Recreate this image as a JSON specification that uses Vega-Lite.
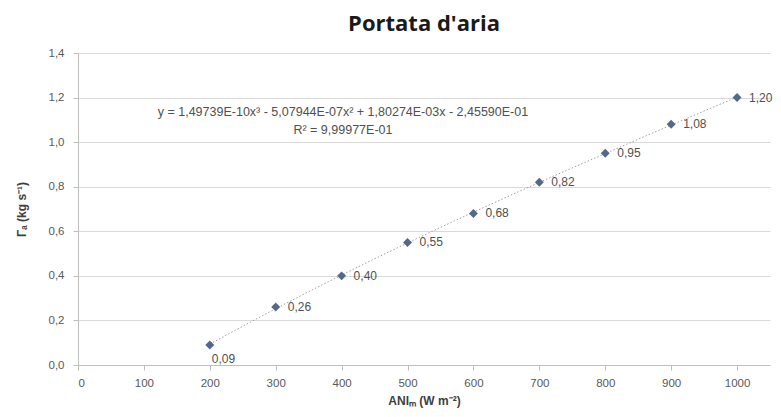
{
  "$schema": "https://vega.github.io/schema/vega-lite/v6.json",
  "width": 692,
  "height": 312,
  "autosize": {"type": "none"},
  "padding": {"left": 78, "top": 53, "right": 11, "bottom": 52},
  "background": "white",
  "config": {
    "locale": {"number": {"decimal": ",", "thousands": ".", "grouping": [3], "currency": ["", " €"]}},
    "view": {"stroke": null},
    "font": "Liberation Sans"
  },
  "title": {"text": "Portata d'aria", "fontSize": 22, "fontWeight": "bold", "font": "Open Sans", "anchor": "middle", "offset": 11, "color": "#1a1a1a"},
  "layer": [
    {
      "data": {"name": "pts"},
      "transform": [{"regression": "y", "on": "x", "method": "poly", "order": 3}],
      "mark": {"type": "line", "color": "#a0a0a0", "strokeDash": [1.5, 2], "strokeWidth": 1},
      "encoding": {
        "x": {"field": "x", "type": "quantitative",
          "scale": {"domain": [0, 1050], "nice": false, "zero": true},
          "axis": {"values": [0, 100, 200, 300, 400, 500, 600, 700, 800, 900, 1000], "format": "d", "grid": false,
            "domainColor": "#bfbfbf", "tickColor": "#bfbfbf", "tickSize": 5, "labelFontSize": 11.5, "labelColor": "#595959", "labelPadding": 7,
            "title": "ANIₘ (W m⁻²)", "titleFontSize": 12, "titleFontWeight": "bold", "titleColor": "#404040", "titlePadding": 7}},
        "y": {"field": "y", "type": "quantitative",
          "scale": {"domain": [0, 1.4], "nice": false},
          "axis": {"values": [0, 0.2, 0.4, 0.6, 0.8, 1.0, 1.2, 1.4], "format": ".1f", "grid": true, "gridColor": "#d9d9d9",
            "domainColor": "#bfbfbf", "tickColor": "#bfbfbf", "tickSize": 5, "labelFontSize": 11.5, "labelColor": "#595959", "labelPadding": 9,
            "title": "Γₐ (kg s⁻¹)", "titleFontSize": 12, "titleFontWeight": "bold", "titleColor": "#404040", "titlePadding": 20}}
      }
    },
    {
      "data": {"name": "pts"},
      "mark": {"type": "point", "shape": "diamond", "filled": true, "size": 80, "color": "#52698c", "opacity": 1},
      "encoding": {"x": {"field": "x", "type": "quantitative"}, "y": {"field": "y", "type": "quantitative"}}
    },
    {
      "data": {"name": "pts"},
      "transform": [{"filter": "datum.x > 200"}],
      "mark": {"type": "text", "align": "left", "baseline": "middle", "dx": 12, "fontSize": 12, "color": "#505050"},
      "encoding": {"x": {"field": "x", "type": "quantitative"}, "y": {"field": "y", "type": "quantitative"},
        "text": {"field": "y", "type": "quantitative", "format": ".2f"}}
    },
    {
      "data": {"name": "pts"},
      "transform": [{"filter": "datum.x == 200"}],
      "mark": {"type": "text", "align": "left", "baseline": "middle", "dx": 2, "dy": 14, "fontSize": 12, "color": "#505050"},
      "encoding": {"x": {"field": "x", "type": "quantitative"}, "y": {"field": "y", "type": "quantitative"},
        "text": {"field": "y", "type": "quantitative", "format": ".2f"}}
    },
    {
      "data": {"values": [{"t": "y = 1,49739E-10x³ - 5,07944E-07x² + 1,80274E-03x - 2,45590E-01"}]},
      "mark": {"type": "text", "align": "center", "baseline": "middle", "fontSize": 12.5, "color": "#505050"},
      "encoding": {"x": {"datum": 402}, "y": {"datum": 1.135}, "text": {"field": "t", "type": "nominal"}}
    },
    {
      "data": {"values": [{"t": "R² = 9,99977E-01"}]},
      "mark": {"type": "text", "align": "center", "baseline": "middle", "fontSize": 12.5, "color": "#505050"},
      "encoding": {"x": {"datum": 402}, "y": {"datum": 1.054}, "text": {"field": "t", "type": "nominal"}}
    }
  ],
  "datasets": {
    "pts": [
      {"x": 200, "y": 0.09},
      {"x": 300, "y": 0.26},
      {"x": 400, "y": 0.40},
      {"x": 500, "y": 0.55},
      {"x": 600, "y": 0.68},
      {"x": 700, "y": 0.82},
      {"x": 800, "y": 0.95},
      {"x": 900, "y": 1.08},
      {"x": 1000, "y": 1.20}
    ]
  }
}
